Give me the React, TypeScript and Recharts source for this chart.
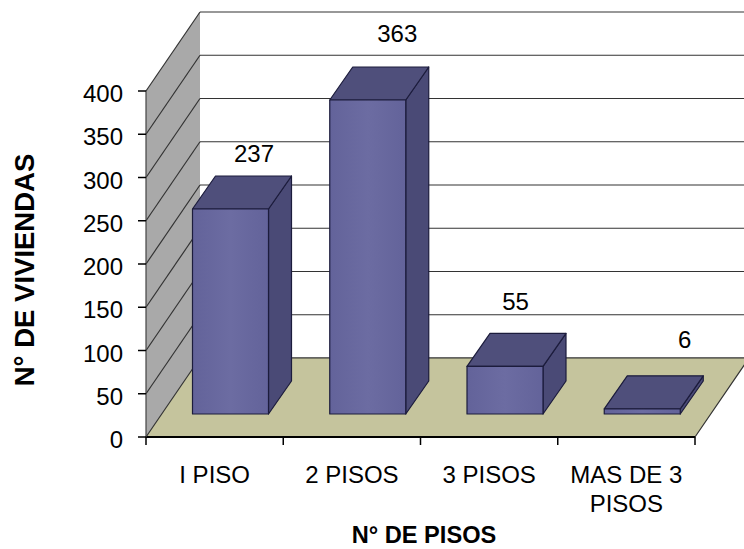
import React from 'react'
import {
	BarChart,
	Bar,
	CartesianGrid,
	LabelList,
	ReferenceArea,
	XAxis,
	YAxis,
} from 'recharts'

const categories = ['I PISO', '2 PISOS', '3 PISOS', 'MAS DE 3 PISOS']
const viviendas = [237, 363, 55, 6]
const yTicks = [0, 50, 100, 150, 200, 250, 300, 350, 400]

const data = categories.map((name, i) => ({ name, total: viviendas[i] }))

const FONT = '"Liberation Sans", Arial, sans-serif'
// 3d look: how far the back wall sits behind the axis plane
const WALL_DX = 54
const WALL_DY = 79
// bars stand in the middle of the floor
const BAR_DX = 15.5
const BAR_DY = 23
const BAR_DEPTH_X = 23
const BAR_DEPTH_Y = 33
const EDGE = '#1c1c3c'
// the value labels were dragged by hand in the original
const LABEL_NUDGE_X = [0, 6, -13, 19]
const LABEL_NUDGE_Y = [12, 1, 3, -2]

function Walls(props: any) {
	const { x, y, width, height } = props
	const bottom = y + height
	return (
		<g>
			<polygon
				points={`${x},${y} ${x + WALL_DX},${y - WALL_DY} ${x + WALL_DX},${bottom - WALL_DY} ${x},${bottom}`}
				fill='#a9a9a9'
			/>
			{yTicks.slice(1).map((t) => {
				const ty = bottom - (height * t) / 400
				return (
					<line
						key={t}
						x1={x}
						y1={ty}
						x2={x + WALL_DX}
						y2={ty - WALL_DY}
						stroke='#333'
						strokeWidth={1.2}
					/>
				)
			})}
			<polygon
				points={`${x},${bottom} ${x + WALL_DX},${bottom - WALL_DY} ${x + width + WALL_DX},${bottom - WALL_DY} ${x + width},${bottom}`}
				fill='#c5c49d'
				stroke='#333'
				strokeWidth={1.2}
			/>
		</g>
	)
}

function GridLine(props: any) {
	const { x1, x2, y1 } = props
	return (
		<line
			x1={x1 + WALL_DX}
			y1={y1 - WALL_DY}
			x2={x2 + WALL_DX}
			y2={y1 - WALL_DY}
			stroke='#333'
			strokeWidth={1.2}
		/>
	)
}

function Box(props: any) {
	const { x, y, width, height } = props
	const left = x + BAR_DX
	const top = y - BAR_DY
	const right = left + width
	const bottom = top + height
	return (
		<g stroke={EDGE} strokeWidth={1.2} strokeLinejoin='round'>
			<polygon
				points={`${right},${top} ${right + BAR_DEPTH_X},${top - BAR_DEPTH_Y} ${right + BAR_DEPTH_X},${bottom - BAR_DEPTH_Y} ${right},${bottom}`}
				fill='#4a4a76'
			/>
			<polygon
				points={`${left},${top} ${left + BAR_DEPTH_X},${top - BAR_DEPTH_Y} ${right + BAR_DEPTH_X},${top - BAR_DEPTH_Y} ${right},${top}`}
				fill='#4f4f7b'
			/>
			<rect x={left} y={top} width={width} height={height} fill='url(#barFront)' />
		</g>
	)
}

function ValueLabel(props: any) {
	const { x, y, width, value, index } = props
	return (
		<text
			x={x + width / 2 + 39 + LABEL_NUDGE_X[index]}
			y={y - 82 + LABEL_NUDGE_Y[index]}
			textAnchor='middle'
			fontFamily={FONT}
			fontSize={24}
			fill='#000'
		>
			{value}
		</text>
	)
}

function PisoTick(props: any) {
	const { x, y, payload, index } = props
	const band = 137.25
	const words = String(payload.value)
	const lines = words.length > 10 ? ['MAS DE 3', 'PISOS'] : [words]
	return (
		<g>
			<line x1={x - band / 2} y1={y - 8} x2={x - band / 2} y2={y} stroke='#000' strokeWidth={1.5} />
			{index === categories.length - 1 && (
				<line x1={x + band / 2} y1={y - 8} x2={x + band / 2} y2={y} stroke='#000' strokeWidth={1.5} />
			)}
			{lines.map((l, i) => (
				<text
					key={l}
					x={x}
					y={y + 38 + i * 29}
					textAnchor='middle'
					fontFamily={FONT}
					fontSize={24}
					fill='#000'
				>
					{l}
				</text>
			))}
		</g>
	)
}

function ViviendaTick(props: any) {
	const { y, payload } = props
	return (
		<text
			x={123}
			y={y + 11}
			textAnchor='end'
			fontFamily={FONT}
			fontSize={24}
			fill='#000'
		>
			{payload.value}
		</text>
	)
}

export default function App() {
	return (
		<div style={{ position: 'absolute', left: 0, top: 0, width: 744, height: 549, overflow: 'hidden', background: '#fff' }}>
			<BarChart
				width={744}
				height={549}
				data={data}
				margin={{ left: 0, right: 49, top: 91, bottom: 62 }}
				style={{ overflow: 'hidden' }}
			>
				<defs>
					<linearGradient id='barFront' x1='0' y1='0' x2='1' y2='0'>
						<stop offset='0' stopColor='#63639a' />
						<stop offset='0.5' stopColor='#6c6ca2' />
						<stop offset='1' stopColor='#63639a' />
					</linearGradient>
				</defs>
				<XAxis
					dataKey='name'
					axisLine={{ stroke: '#000', strokeWidth: 2 }}
					tickLine={false}
					interval={0}
					height={50}
					tick={<PisoTick />}
				/>
				<YAxis
					width={146}
					domain={[0, 400]}
					ticks={yTicks}
					axisLine={{ stroke: '#444', strokeWidth: 1.2 }}
					tickLine={{ stroke: '#000', strokeWidth: 1.5 }}
					tickSize={8}
					tick={<ViviendaTick />}
				/>
				<ReferenceArea y1={0} y2={400} ifOverflow='visible' shape={<Walls />} />
				<CartesianGrid vertical={false} horizontal={(p: any) => <GridLine key={p.key} {...p} />} />
				<Bar dataKey='total' barSize={76} isAnimationActive={false} shape={<Box />}>
					<LabelList dataKey='total' content={<ValueLabel />} />
				</Bar>
				<text
					transform='translate(34 270) rotate(-90)'
					textAnchor='middle'
					fontFamily={FONT}
					fontSize={27.5}
					fontWeight='bold'
					fill='#000'
				>
					N° DE VIVIENDAS
				</text>
				<text
					x={424}
					y={543}
					textAnchor='middle'
					fontFamily={FONT}
					fontSize={23.6}
					fontWeight='bold'
					fill='#000'
				>
					N° DE PISOS
				</text>
			</BarChart>
		</div>
	)
}
